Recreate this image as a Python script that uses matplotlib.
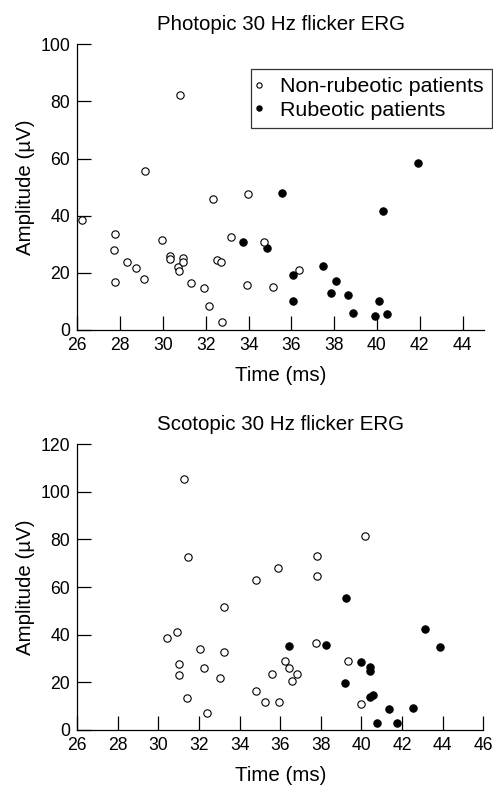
import matplotlib
matplotlib.use("Agg")
import matplotlib.pyplot as plt
from matplotlib.lines import Line2D

plt.rcParams['font.family'] = ['Liberation Sans', 'DejaVu Sans']

# ---- Data ----
photopic_non_x = [26.2, 27.78, 27.73, 27.76, 28.34, 28.76, 29.13, 29.16, 29.96, 30.33,
                  30.33, 30.8, 30.72, 30.74, 30.93, 30.93, 31.33, 31.92, 32.17, 32.33,
                  32.53, 32.71, 32.74, 33.17, 33.99, 33.95, 34.74, 35.13, 36.34]
photopic_non_y = [38.4, 33.6, 27.9, 16.8, 23.7, 21.8, 17.8, 55.5, 31.5, 26.0,
                  25.0, 82.3, 22.2, 20.8, 25.1, 23.7, 16.5, 14.6, 8.3, 45.7,
                  24.5, 23.7, 2.8, 32.7, 47.6, 15.9, 30.7, 15.1, 21.0]
photopic_rub_x = [33.74, 34.85, 35.55, 36.1, 36.08, 37.5, 38.09, 37.87, 38.66, 38.88,
                  39.91, 40.1, 40.49, 40.29, 41.92]
photopic_rub_y = [30.7, 28.8, 48.1, 19.4, 10.3, 22.3, 17.0, 13.1, 12.3, 6.1,
                  4.9, 10.3, 5.6, 41.5, 58.6]

scotopic_non_x = [31.26, 31.47, 30.43, 30.9, 31.02, 31.02, 31.39, 32.03, 32.23, 32.39,
                  33.01, 33.23, 33.24, 34.82, 34.8, 35.25, 35.6, 35.87, 35.94, 36.22,
                  36.41, 36.81, 36.59, 37.79, 37.79, 37.76, 39.35, 39.99, 40.16]
scotopic_non_y = [105.2, 72.6, 38.6, 41.1, 27.7, 23.2, 13.4, 34.0, 26.1, 7.3,
                  22.0, 32.9, 51.6, 63.0, 16.5, 11.9, 23.5, 68.0, 11.9, 29.1,
                  26.1, 23.4, 20.7, 73.0, 64.6, 36.6, 29.0, 10.9, 81.5]
scotopic_rub_x = [36.43, 38.23, 39.24, 39.19, 39.96, 40.42, 40.42, 40.58, 40.42, 40.76,
                  41.35, 41.75, 42.52, 43.13, 43.88]
scotopic_rub_y = [35.2, 35.8, 55.3, 19.7, 28.4, 26.6, 24.9, 14.8, 13.7, 2.8,
                  8.7, 2.8, 9.1, 42.5, 34.8]

top_xticks = [26, 28, 30, 32, 34, 36, 38, 40, 42, 44]
top_yticks = [0, 20, 40, 60, 80, 100]
bot_xticks = [26, 28, 30, 32, 34, 36, 38, 40, 42, 44, 46]
bot_yticks = [0, 20, 40, 60, 80, 100, 120]
legend_labels = ['Non-rubeotic patients', 'Rubeotic patients']

TFS = 12.7   # tick labels
LFS = 14.8   # titles, axis labels
GFS = 15.4   # legend
W, H = 493, 785
fig = plt.figure(figsize=(W / 100, H / 100), dpi=100)

ax1 = fig.add_axes([77.3 / W, 1 - 330 / H, (484 - 77.3) / W, (330 - 44.3) / H])
ax2 = fig.add_axes([77.3 / W, 1 - 730 / H, (483.3 - 77.3) / W, (730 - 444) / H])


def style(ax, xlim, ylim, xt, yt, title):
    ax.set_xlim(*xlim)
    ax.set_ylim(*ylim)
    ax.set_xticks(xt)
    ax.set_yticks(yt)
    for s in ['top', 'right']:
        ax.spines[s].set_visible(False)
    for s in ['left', 'bottom']:
        ax.spines[s].set_linewidth(0.9)
    ax.tick_params(direction='in', length=10, width=0.9, labelsize=TFS, pad=5)
    ax.set_title(title, fontsize=LFS, pad=10)
    ax.set_xlabel('Time (ms)', fontsize=LFS)
    ax.set_ylabel('Amplitude (\u00b5V)', fontsize=LFS)
    ax.yaxis.set_label_coords(-0.105, 0.5)
    ax.xaxis.set_label_coords(0.5, -0.125)


MS = 28
for ax, nx, ny, rx, ry in [(ax1, photopic_non_x, photopic_non_y, photopic_rub_x, photopic_rub_y),
                           (ax2, scotopic_non_x, scotopic_non_y, scotopic_rub_x, scotopic_rub_y)]:
    ax.scatter(rx, ry, s=MS, facecolor='black', edgecolor='black', linewidths=0.8, zorder=3, clip_on=False)
    ax.scatter(nx, ny, s=MS, facecolor='white', edgecolor='black', linewidths=0.8, zorder=4, clip_on=False)

style(ax1, (26, 45), (0, 100), top_xticks, top_yticks, 'Photopic 30 Hz flicker ERG')
style(ax2, (26, 46), (0, 120), bot_xticks, bot_yticks, 'Scotopic 30 Hz flicker ERG')

handles = [Line2D([], [], ls='none', marker='o', markersize=3.8, markerfacecolor='white',
                  markeredgecolor='black', markeredgewidth=0.8),
           Line2D([], [], ls='none', marker='o', markersize=3.8, markerfacecolor='black',
                  markeredgecolor='black', markeredgewidth=0.8)]
leg = fig.legend(handles, legend_labels,
                 loc='upper left', bbox_to_anchor=(251 / W, 1 - 69.3 / H),
                 fontsize=GFS, frameon=True, fancybox=False, edgecolor='black',
                 handlelength=0.0, handletextpad=0.98, borderpad=0.38, labelspacing=0.2,
                 borderaxespad=0)
leg.get_frame().set_linewidth(0.9)

fig.savefig('out.png', dpi=100)
